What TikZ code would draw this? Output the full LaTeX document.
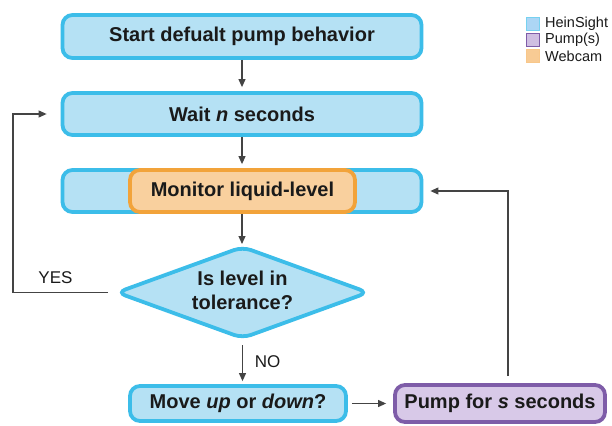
\documentclass[tikz,border=0pt]{standalone}
\usepackage{fontspec}
\setmainfont{Liberation Sans}
\usetikzlibrary{arrows.meta}
\definecolor{hsfill}{HTML}{B5E1F4}
\definecolor{hsline}{HTML}{3CBDE9}
\definecolor{wcfill}{HTML}{F9D09E}
\definecolor{wcline}{HTML}{F2A33A}
\definecolor{pufill}{HTML}{D8C9E8}
\definecolor{puline}{HTML}{7E5CA8}
\definecolor{conn}{HTML}{444444}
\definecolor{txt}{HTML}{1A1A1A}
\begin{document}
\begin{tikzpicture}[x=1pt,y=-1pt,
  mainfont/.style={font=\fontsize{20}{24}\selectfont\bfseries, text=txt},
  hsbox/.style={draw=hsline, fill=hsfill, line width=3.8pt, rounded corners=10pt, inner sep=0pt, mainfont},
  wcbox/.style={draw=wcline, fill=wcfill, line width=3.8pt, rounded corners=10pt, inner sep=0pt, mainfont},
  pubox/.style={draw=puline, fill=pufill, line width=3.8pt, rounded corners=10pt, inner sep=0pt, mainfont},
  arr/.style={draw=conn, line width=1.1pt, -{Triangle[length=8pt,width=7pt]}},
  lbl/.style={font=\fontsize{17}{20}\selectfont, text=txt, inner sep=0pt},
  legsq/.style={line width=0.8pt, minimum size=13pt, inner sep=0pt},
  legtxt/.style={font=\fontsize{14.5}{17}\selectfont, text=txt, anchor=west, inner sep=0pt}]
\fill[white] (0,0) rectangle (612,425);
\useasboundingbox (0,0) rectangle (612,425);

% boxes
\node[hsbox, minimum width=359pt, minimum height=43pt] (box1) at (242,36.5) {Start defualt pump behavior};
\node[hsbox, minimum width=359pt, minimum height=42pt] (box2) at (242,114) {Wait \textit{n} seconds};
\node[hsbox, minimum width=359pt, minimum height=42pt] (box3) at (242,191) {};
\node[wcbox, minimum width=225pt, minimum height=42pt] (mon) at (242.5,191) {Monitor liquid-level};

% diamond
\draw[draw=hsline, fill=hsfill, line width=3.8pt, rounded corners=9pt]
  (242.5,247) -- (368,292.5) -- (242.5,338) -- (117,292.5) -- cycle;
\coordinate (diaN) at (242,247);
\coordinate (diaS) at (242.5,338);
\coordinate (diaW) at (117,292.5);
\node[mainfont, align=center, inner sep=0pt] (dia) at (242.5,290) {Is level in\\tolerance?};

\node[hsbox, minimum width=216pt, minimum height=35pt] (move) at (238,403.5) {Move \textit{up} or \textit{down}?};
\node[pubox, minimum width=210pt, minimum height=37pt] (pump) at (500,403.5) {Pump for \textit{s} seconds};

% connectors
\draw[arr, shorten >=4pt] (box1.south) -- (box2.north);
\draw[arr, shorten >=4pt] (box2.south) -- (box3.north);
\draw[arr, shorten >=3pt] (box3.south) -- (diaN);
\coordinate (noStart) at (242.5,345);
\draw[arr, shorten >=3pt] (noStart) -- (noStart |- move.north);
\draw[arr, shorten <=4pt, shorten >=7pt] (move.east) -- (pump.west);
\coordinate (upx) at (508,0);
\draw[arr, shorten <=7pt, shorten >=7pt] (pump.north -| upx) |- (box3.east);
\coordinate (yesStart) at (108,292.5);
\coordinate (loopx) at (13,0);
\draw[arr, shorten >=14pt] (yesStart) -- (yesStart -| loopx) -- (loopx |- box2.west) -- (box2.west);

% labels
\node[lbl] (yes) at (55.5,277.5) {YES};
\node[lbl] (no) at (267.5,361.5) {NO};

% legend
\node[legsq, fill=hsfill!95!blue, draw=hsline!70] (lg1) at (533,24) {};
\node[legsq, fill=pufill!90!puline, draw=puline] (lg2) at (533,40) {};
\node[legsq, fill=wcfill!90!wcline, draw=wcfill!80!wcline] (lg3) at (533,56) {};
\node[legtxt] (lt1) at (545,24) {HeinSight};
\node[legtxt] (lt2) at (545,40) {Pump(s)};
\node[legtxt] (lt3) at (545,56) {Webcam};
\end{tikzpicture}
\end{document}
